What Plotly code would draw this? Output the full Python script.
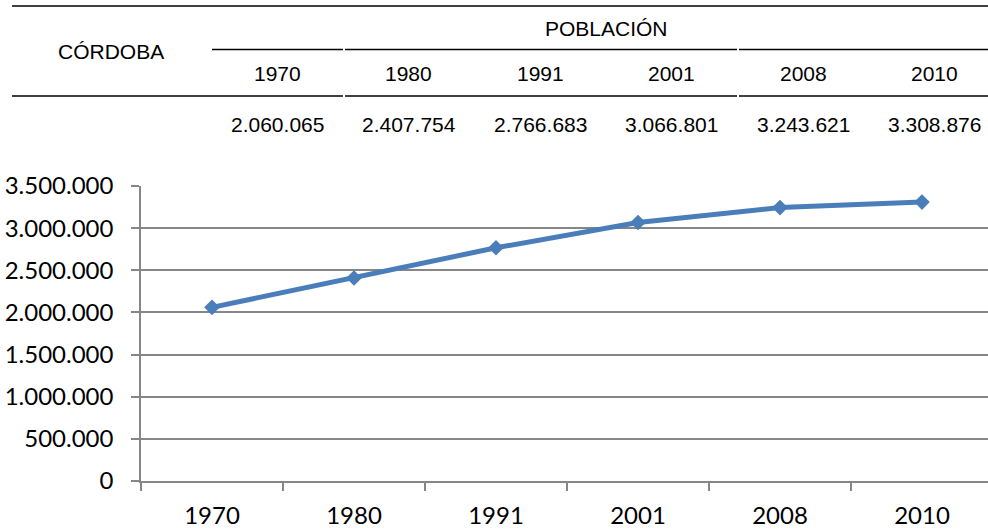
import plotly.graph_objects as go

# data
province = 'CÓRDOBA'
header = 'POBLACIÓN'
years = ['1970', '1980', '1991', '2001', '2008', '2010']
population = [2060065, 2407754, 2766683, 3066801, 3243621, 3308876]

W, H = 988, 529
L, R, T, B = 141, 0, 186, 48
pw, ph = W - L - R, H - T - B


def px(x):  # pixel -> paper x
    return (x - L) / pw


def py(y):  # pixel -> paper y
    return (H - B - y) / ph


def fmt(v):
    return f'{v:,}'.replace(',', '.')


fig = go.Figure()
fig.add_trace(go.Scatter(
    x=years, y=population, mode='lines+markers',
    line=dict(color='#4a7ebb', width=5),
    marker=dict(symbol='diamond', size=12, color='#4a7ebb'),
    showlegend=False, cliponaxis=False,
))

axis_font = dict(family='Lato', size=24, color='#000000')
grey = '#868686'

fig.update_xaxes(
    type='category', range=[-0.5, 5.465],
    showline=True, linecolor=grey, linewidth=1.5,
    ticks='outside', tickson='boundaries', ticklen=8, tickcolor=grey, tickwidth=1.5,
    showgrid=False, tickfont=axis_font, ticklabelstandoff=12,
)
fig.update_yaxes(
    range=[0, 3500000], dtick=500000, tickformat=',d',
    showline=True, linecolor=grey, linewidth=1.5,
    ticks='outside', ticklen=8, tickcolor=grey, tickwidth=1.5,
    showgrid=True, gridcolor=grey, gridwidth=1.5, zeroline=False,
    tickfont=axis_font, ticklabelstandoff=13,
)

# table lines
line_style = dict(color='#000000', width=1.3)
segments = [
    (12, 988, 6),
    (212, 343, 49.5), (345, 737, 49.5), (739, 988, 49.5),
    (12, 343, 96), (345, 737, 96), (739, 988, 96),
]
for x0, x1, y in segments:
    fig.add_shape(type='line', xref='paper', yref='paper',
                  x0=px(x0), x1=px(x1), y0=py(y), y1=py(y), line=line_style)

tfont = dict(family='Liberation Sans', size=21, color='#000000')
fig.add_annotation(text=province, x=px(111), y=py(51), xref='paper', yref='paper',
                   showarrow=False, font=tfont, xanchor='center', yanchor='middle')
fig.add_annotation(text=header, x=px(606), y=py(28), xref='paper', yref='paper',
                   showarrow=False, font=tfont, xanchor='center', yanchor='middle')
for i, (yr, v) in enumerate(zip(years, population)):
    cx = 277.5 + 131.4 * i
    fig.add_annotation(text=yr, x=px(cx), y=py(73), xref='paper', yref='paper',
                       showarrow=False, font=tfont, xanchor='center', yanchor='middle')
    fig.add_annotation(text=fmt(v), x=px(cx), y=py(124), xref='paper', yref='paper',
                       showarrow=False, font=tfont, xanchor='center', yanchor='middle')

fig.update_layout(
    width=W, height=H,
    margin=dict(l=L, r=R, t=T, b=B),
    separators=',.',
    plot_bgcolor='white', paper_bgcolor='white',
)

fig.write_html('out.html', config={'displayModeBar': False},
               post_script="document.body.style.margin='0';")
